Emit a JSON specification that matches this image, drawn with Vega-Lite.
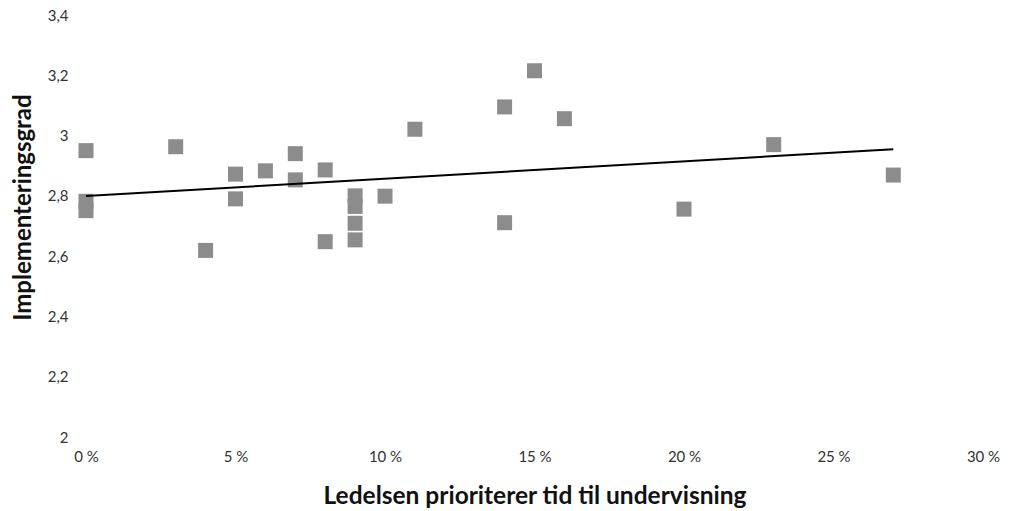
{
  "$schema": "https://vega.github.io/schema/vega-lite/v6.json",
  "width": 897,
  "height": 422,
  "autosize": {"type": "none"},
  "padding": {"left": 86, "top": 15, "right": 32, "bottom": 74},
  "background": "white",
  "config": {"view": {"stroke": null}, "font": "Lato"},
  "data": {
    "values": [
      {"x": 0, "y": 2.95}, {"x": 0, "y": 2.782}, {"x": 0, "y": 2.751},
      {"x": 3, "y": 2.963}, {"x": 4, "y": 2.619},
      {"x": 5, "y": 2.872}, {"x": 5, "y": 2.79},
      {"x": 6, "y": 2.883},
      {"x": 7, "y": 2.94}, {"x": 7, "y": 2.853},
      {"x": 8, "y": 2.886}, {"x": 8, "y": 2.648},
      {"x": 9, "y": 2.8}, {"x": 9, "y": 2.765}, {"x": 9, "y": 2.709}, {"x": 9, "y": 2.654},
      {"x": 10, "y": 2.799}, {"x": 11, "y": 3.021},
      {"x": 14, "y": 3.095}, {"x": 14, "y": 2.711},
      {"x": 15, "y": 3.215}, {"x": 16, "y": 3.056},
      {"x": 20, "y": 2.756}, {"x": 23, "y": 2.97}, {"x": 27, "y": 2.869}
    ]
  },
  "encoding": {
    "x": {
      "field": "x", "type": "quantitative",
      "scale": {"domain": [0, 30], "nice": false, "zero": false},
      "axis": {
        "values": [0, 5, 10, 15, 20, 25, 30],
        "labelExpr": "datum.value + ' %'",
        "labelFlush": false,
        "title": "Ledelsen prioriterer tid til undervisning",
        "domain": false, "ticks": false, "grid": false,
        "labelFontSize": 15, "labelColor": "#333333", "labelPadding": 12,
        "titleFontSize": 24.5, "titleFontWeight": "bold", "titleColor": "#111111",
        "titleBaseline": "alphabetic", "titleY": 66
      }
    },
    "y": {
      "field": "y", "type": "quantitative",
      "scale": {"domain": [2, 3.4], "nice": false, "zero": false},
      "axis": {
        "values": [2, 2.2, 2.4, 2.6, 2.8, 3, 3.2, 3.4],
        "labelExpr": "replace(format(datum.value, '.1~f'), '.', ',')",
        "title": "Implementeringsgrad",
        "domain": false, "ticks": false, "grid": false,
        "labelFontSize": 15, "labelColor": "#333333", "labelPadding": 18,
        "titleFontSize": 24, "titleFontWeight": "bold", "titleColor": "#111111",
        "titleAngle": 270, "titleAlign": "center", "titleBaseline": "middle",
        "titleX": -63, "titleY": 192
      }
    }
  },
  "layer": [
    {
      "mark": {"type": "point", "shape": "square", "filled": true, "size": 225, "color": "#8c8c8c", "opacity": 1}
    },
    {
      "transform": [{"regression": "y", "on": "x"}],
      "mark": {"type": "line", "color": "#000000", "strokeWidth": 2}
    }
  ]
}
